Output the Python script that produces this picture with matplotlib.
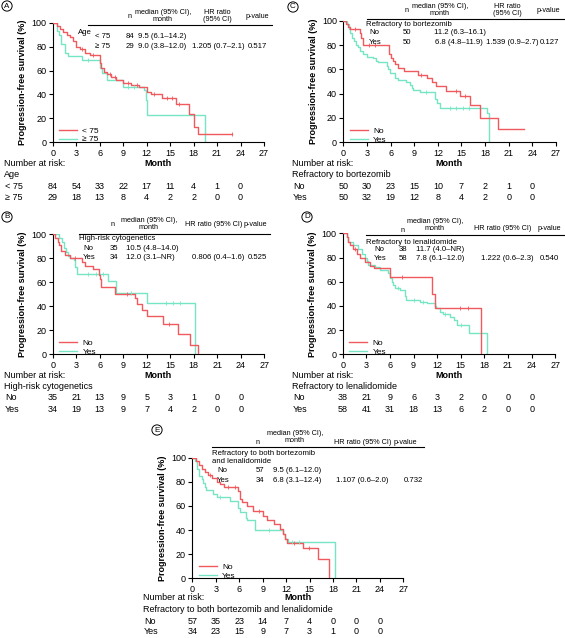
import matplotlib
matplotlib.use("Agg")
import matplotlib.pyplot as plt
import numpy as np
from matplotlib.lines import Line2D
from matplotlib.transforms import blended_transform_factory

plt.rcParams['font.family'] = ['Liberation Sans', 'DejaVu Sans']

W, H = 565, 638
RED = '#F05A5E'
GREEN = '#76E5C4'
HS = 5.2   # header title size
VS = 5.6   # header value size

# ---------------- data ----------------
months = [0, 3, 6, 9, 12, 15, 18, 21, 24, 27]
risk_times = [0, 3, 6, 9, 12, 15, 18, 21, 24]

# Panel A: Age
A_g1_t = [0, .5, .9, 1.3, 1.8, 2.2, 2.6, 3.0, 3.5, 4.1, 4.8, 6.0, 6.2, 6.6, 7.0, 7.5, 8.1, 9.0, 10.0, 11.0, 12.0, 12.6, 14.0, 15.8, 17.4, 18.0, 18.6]
A_g1_s = [100, 97, 95, 92, 90, 88, 85, 80, 78, 75, 73, 66, 62, 59, 57, 55, 52, 50, 48, 46, 42, 40, 37, 32, 24, 13, 7]
A_g1_end = 22.9
A_g1_cens = [3.8, 5.2, 7.3, 7.9, 9.6, 10.8, 13.0, 14.6, 15.2, 16.2, 22.9]
A_g2_t = [0, .5, .8, 1.1, 1.6, 2.0, 3.7, 6.0, 6.3, 7.0, 9.0, 11.7, 11.9, 12.0, 19.5]
A_g2_s = [100, 93, 90, 82, 75, 72, 69, 62, 58, 52, 46, 44, 35, 23, 0]
A_g2_end = 19.5
A_g2_cens = [4.5, 9.6, 10.4]
A_labels = ['< 75', '≥ 75']
A_risk1 = [84, 54, 33, 22, 17, 11, 4, 1, 0]
A_risk2 = [29, 18, 13, 8, 4, 2, 2, 0, 0]
A_n = ['84', '29']
A_median = ['9.5 (6.1–14.2)', '9.0 (3.8–12.0)']
A_hr, A_p = '1.205 (0.7–2.1)', '0.517'

# Panel B: High-risk cytogenetics
B_g1_t = [0, .3, .7, .85, 1.0, 1.6, 2.2, 3.7, 4.1, 5.2, 5.9, 6.0, 6.2, 8.0, 10.5, 10.8, 11.4, 12.0, 14.1, 16.0, 17.5, 18.6]
B_g1_s = [100, 97, 94, 91, 86, 83, 80, 77, 74, 71, 66, 63, 56, 50, 47, 42, 37, 32, 25, 17, 8, 0]
B_g1_end = 18.6
B_g1_cens = [2.8, 9.5, 14.9]
B_g2_t = [0, .85, 1.15, 1.4, 1.7, 2.0, 2.2, 2.7, 2.85, 3.1, 7.1, 8.1, 12.0, 18.2]
B_g2_s = [100, 97, 94, 89, 85, 82, 80, 79, 73, 67, 61, 51, 43, 0]
B_g2_end = 18.2
B_g2_cens = [4.5, 5.5, 6.4, 10.0, 14.5, 15.4, 16.3]
B_labels = ['No', 'Yes']
B_risk1 = [35, 21, 13, 9, 5, 3, 1, 0, 0]
B_risk2 = [34, 19, 13, 9, 7, 4, 2, 0, 0]
B_n = ['35', '34']
B_median = ['10.5 (4.8–14.0)', '12.0 (3.1–NR)']
B_hr, B_p = '0.806 (0.4–1.6)', '0.525'

# Panel C: Refractory to bortezomib
C_g1_t = [0, .4, .6, .85, 2.1, 2.3, 2.5, 5.8, 6.1, 6.3, 6.6, 7.0, 7.7, 9.5, 10.6, 11.2, 11.8, 13.1, 14.8, 16.1, 17.4, 19.6]
C_g1_s = [100, 97, 95, 93, 90, 86, 80, 73, 69, 67, 64, 61, 59, 55, 53, 50, 46, 42, 38, 31, 20, 11]
C_g1_end = 23.0
C_g1_cens = [1.5, 3.3, 4.0, 9.8, 14.3, 15.4]
C_g2_t = [0, .45, .7, .85, 1.05, 1.3, 1.6, 1.9, 2.1, 2.5, 3.0, 3.8, 4.2, 4.4, 5.5, 5.7, 5.9, 6.6, 7.0, 8.0, 8.5, 8.7, 8.9, 9.7, 11.6, 11.9, 12.3, 18.3, 18.45, 18.55]
C_g2_s = [100, 97, 93, 90, 86, 83, 80, 78, 75, 73, 70, 69, 67, 66, 63, 60, 57, 53, 51, 50, 47, 45, 43, 41, 36, 32, 28, 24, 18, 0]
C_g2_end = 18.55
C_g2_cens = [10.5, 13.5, 14.3, 15.2, 16.0]
C_labels = ['No', 'Yes']
C_risk1 = [50, 30, 23, 15, 10, 7, 2, 1, 0]
C_risk2 = [50, 32, 19, 12, 8, 4, 2, 0, 0]
C_n = ['50', '50']
C_median = ['11.2 (6.3–16.1)', '6.8 (4.8–11.9)']
C_hr, C_p = '1.539 (0.9–2.7)', '0.127'

# Panel D: Refractory to lenalidomide
D_g1_t = [0, .5, .7, .9, 1.25, 1.8, 2.2, 2.8, 3.5, 4.0, 6.0, 11.3, 11.7, 17.6]
D_g1_s = [100, 97, 93, 90, 87, 83, 80, 76, 73, 71, 64, 50, 38, 0]
D_g1_end = 17.6
D_g1_cens = [1.5, 7.5, 14.9, 15.9]
D_g2_t = [0, .5, .7, 1.35, 2.0, 2.4, 2.8, 3.1, 3.25, 4.1, 4.8, 5.8, 6.0, 6.2, 6.4, 6.6, 7.3, 7.9, 8.1, 9.8, 10.7, 11.7, 11.9, 12.3, 12.8, 13.6, 14.1, 14.5, 16.0, 18.3]
D_g2_s = [100, 97, 93, 90, 87, 83, 80, 77, 74, 72, 70, 67, 63, 60, 57, 55, 53, 48, 45, 43, 42, 40, 38, 35, 33, 31, 28, 24, 18, 0]
D_g2_end = 18.3
D_g2_cens = [7.0, 9.0, 10.2, 13.0, 15.0]
D_labels = ['No', 'Yes']
D_risk1 = [38, 21, 9, 6, 3, 2, 0, 0, 0]
D_risk2 = [58, 41, 31, 18, 13, 6, 2, 0, 0]
D_n = ['38', '58']
D_median = ['11.7 (4.0–NR)', '7.8 (6.1–12.0)']
D_hr, D_p = '1.222 (0.6–2.3)', '0.540'

# Panel E: Refractory to both
E_g1_t = [0, .5, .8, 1.2, 1.6, 2.0, 2.5, 3.1, 3.5, 4.0, 5.9, 6.1, 6.4, 7.0, 7.8, 9.1, 9.5, 10.4, 11.2, 11.6, 11.8, 12.1, 14.2, 16.1, 17.5]
E_g1_s = [100, 97, 94, 91, 88, 86, 83, 80, 78, 76, 72, 66, 63, 60, 56, 52, 48, 45, 41, 37, 33, 29, 25, 16, 0]
E_g1_end = 17.5
E_g1_cens = [2.3, 4.6, 5.4, 8.5, 13.0, 14.9]
E_g2_t = [0, .3, .65, .9, 1.2, 1.4, 1.6, 1.8, 2.7, 3.1, 4.8, 5.9, 6.1, 6.9, 7.0, 8.0, 11.6, 11.8, 12.3, 18.2]
E_g2_s = [100, 97, 91, 85, 82, 79, 76, 73, 70, 67, 64, 58, 55, 50, 48, 40, 37, 33, 30, 0]
E_g2_end = 18.2
E_g2_cens = [3.5, 9.8, 12.8, 13.6]
E_labels = ['No', 'Yes']
E_risk1 = [57, 35, 23, 14, 7, 4, 0, 0, 0]
E_risk2 = [34, 23, 15, 9, 7, 3, 1, 0, 0]
E_n = ['57', '34']
E_median = ['9.5 (6.1–12.0)', '6.8 (3.1–12.4)']
E_hr, E_p = '1.107 (0.6–2.0)', '0.732'

# ---------------- figure ----------------
fig = plt.figure(figsize=(W / 100, H / 100), dpi=100)

def T(x, y, s, ha='left', va='center', size=VS, **kw):
    return fig.text(x / W, 1 - y / H, s, ha=ha, va=va, fontsize=size, **kw)

def HL(x0, x1, y, lw=0.8):
    fig.add_artist(Line2D([x0 / W, x1 / W], [1 - y / H] * 2, lw=lw, color='black'))

def letter(x, y, s):
    T(x, y, s, ha='center', va='center', size=5.8,
      bbox=dict(boxstyle='circle,pad=0.2', fc='white', ec='black', lw=0.7))

def step_value(t, s, x):
    idx = np.searchsorted(np.asarray(t), x, side='right') - 1
    return np.asarray(s)[idx]

def km_axes(x0, x1, y100, y0, g1, g2, labels):
    ax = fig.add_axes([x0 / W, 1 - y0 / H, (x1 - x0) / W, (y0 - y100) / H])
    handles = []
    for (t, s, end, cens), col in zip((g1, g2), (RED, GREEN)):
        tt = list(t) + [end]
        ss = list(s) + [s[-1]]
        ln, = ax.step(tt, ss, where='post', color=col, lw=1.0, zorder=3 if col == RED else 2)
        cy = [step_value(t, s, c) for c in cens]
        ax.plot(cens, cy, ls='none', marker='|', ms=3, mew=0.6, color=col, zorder=3)
        handles.append(ln)
    ax.set_xlim(0, 27)
    ax.set_ylim(0, 100)
    ax.set_xticks(months)
    ax.set_yticks([0, 20, 40, 60, 80, 100])
    for sp in ('top', 'right'):
        ax.spines[sp].set_visible(False)
    for sp in ('left', 'bottom'):
        ax.spines[sp].set_linewidth(0.8)
    ax.tick_params(labelsize=6.5, length=3, width=0.8, pad=1.5)
    ax.set_facecolor('none')
    ax.legend(handles, labels, loc='lower left', bbox_to_anchor=(0.03, -0.01),
              frameon=False, fontsize=6, handlelength=2.2, handletextpad=0.6,
              labelspacing=0.05, borderpad=0, borderaxespad=0)
    T(x0 - 30, (y100 + y0) / 2, 'Progression-free survival (%)', ha='center', va='center',
      size=6.5, rotation=90, fontweight='bold')
    return ax

def risk_table(ax, xl, ytitle, title, labels, r1, r2, xmonth, ymonth):
    T(xl, ytitle, 'Number at risk:', size=6.5)
    T(xmonth, ymonth, 'Month', ha='center', size=6.5, fontweight='bold')
    T(xl, ytitle + 11.5, title, size=6.5)
    tr = blended_transform_factory(ax.transData, fig.transFigure)
    for row, lab, yy in ((r1, labels[0], ytitle + 23), (r2, labels[1], ytitle + 34)):
        T(xl + 1, yy, lab, size=6.5)
        for tx, v in zip(risk_times, row):
            ax.text(tx, 1 - yy / H, str(v), transform=tr, ha='center', va='center',
                    fontsize=6.5, clip_on=False)

# ---- Panel A ----
axA = km_axes(52.7, 264, 22.7, 142.3, (A_g1_t, A_g1_s, A_g1_end, A_g1_cens),
              (A_g2_t, A_g2_s, A_g2_end, A_g2_cens), A_labels)
letter(7, 6, 'A')
T(130, 16, 'n', ha='center', size=HS)
T(163, 16, 'median (95% CI),\nmonth', ha='center', linespacing=1.05, size=HS)
T(217, 16, 'HR ratio\n(95% CI)', ha='center', linespacing=1.05, size=HS)
T(257, 16, 'p-value', ha='center', size=HS)
HL(88, 272, 24.5)
T(78, 33, 'Age')
T(95, 36, A_labels[0]); T(130, 36, A_n[0], ha='center'); T(138, 36, A_median[0])
T(95, 47, A_labels[1]); T(130, 47, A_n[1], ha='center'); T(138, 47, A_median[1])
T(192, 47, A_hr); T(248, 47, A_p)
risk_table(axA, 4, 163, 'Age', A_labels, A_risk1, A_risk2, 158, 164)

# ---- Panel C ----
axC = km_axes(343.3, 556, 20.7, 142.3, (C_g1_t, C_g1_s, C_g1_end, C_g1_cens),
              (C_g2_t, C_g2_s, C_g2_end, C_g2_cens), C_labels)
letter(293, 7, 'C')
T(407, 10, 'n', ha='center', size=HS)
T(440, 10, 'median (95% CI),\nmonth', ha='center', linespacing=1.05, size=HS)
T(507, 10, 'HR ratio\n(95% CI)', ha='center', linespacing=1.05, size=HS)
T(548, 10, 'p-value', ha='center', size=HS)
HL(367, 565, 18.5)
T(366, 24, 'Refractory to bortezomib')
T(369, 32, C_labels[0]); T(407, 32, C_n[0], ha='center'); T(460, 32, C_median[0], ha='center')
T(369, 42, C_labels[1]); T(407, 42, C_n[1], ha='center'); T(459, 42, C_median[1], ha='center')
T(486, 42, C_hr); T(549, 42, C_p, ha='center')
risk_table(axC, 292, 163, 'Refractory to bortezomib', C_labels, C_risk1, C_risk2, 449, 164)

# ---- Panel B ----
axB = km_axes(52.7, 264.3, 234.3, 354.3, (B_g1_t, B_g1_s, B_g1_end, B_g1_cens),
              (B_g2_t, B_g2_s, B_g2_end, B_g2_cens), B_labels)
letter(7, 217, 'B')
T(113, 224, 'n', ha='center', size=HS)
T(149, 224, 'median (95% CI),\nmonth', ha='center', linespacing=1.05, size=HS)
T(185, 224, 'HR ratio (95% CI)', size=HS)
T(244, 224, 'p-value', size=HS)
HL(79, 270, 233.5)
T(79, 239, 'High-risk cytogenetics')
T(83, 248, B_labels[0]); T(114, 248, B_n[0], ha='center'); T(126, 248, B_median[0])
T(83, 257, B_labels[1]); T(114, 257, B_n[1], ha='center'); T(126, 257, B_median[1])
T(192, 257, B_hr); T(248, 257, B_p)
risk_table(axB, 4, 375, 'High-risk cytogenetics', B_labels, B_risk1, B_risk2, 158, 376)

# ---- Panel D ----
axD = km_axes(342.7, 555.3, 233.3, 354.3, (D_g1_t, D_g1_s, D_g1_end, D_g1_cens),
              (D_g2_t, D_g2_s, D_g2_end, D_g2_cens), D_labels)
letter(307, 217, 'D')
T(403, 230, 'n', ha='center', size=HS)
T(435, 225, 'median (95% CI),\nmonth', ha='center', linespacing=1.05, size=HS)
T(474, 229, 'HR ratio (95% CI)', size=HS)
T(538, 229, 'p-value', size=HS)
HL(366, 565, 235)
T(366, 242, 'Refractory to lenalidomide')
T(374, 250, D_labels[0]); T(403, 250, D_n[0], ha='center'); T(416, 250, D_median[0])
T(374, 259, D_labels[1]); T(403, 259, D_n[1], ha='center'); T(416, 259, D_median[1])
T(481, 259, D_hr); T(540, 259, D_p)
risk_table(axD, 292, 375, 'Refractory to lenalidomide', D_labels, D_risk1, D_risk2, 449, 376)

# ---- Panel E ----
axE = km_axes(192.3, 403.3, 457.7, 578.3, (E_g1_t, E_g1_s, E_g1_end, E_g1_cens),
              (E_g2_t, E_g2_s, E_g2_end, E_g2_cens), E_labels)
letter(157, 430, 'E')
T(258, 442, 'n', ha='center', size=HS)
T(295, 437, 'median (95% CI),\nmonth', ha='center', linespacing=1.05, size=HS)
T(334, 442, 'HR ratio (95% CI)', size=HS)
T(394, 442, 'p-value', size=HS)
HL(212, 424, 447)
T(212, 457.5, 'Refractory to both bortezomib\nand lenalidomide', linespacing=1.15)
T(217, 470, E_labels[0]); T(260, 470, E_n[0], ha='center'); T(297, 470, E_median[0], ha='center')
T(217, 480, E_labels[1]); T(260, 480, E_n[1], ha='center'); T(297, 480, E_median[1], ha='center')
T(362, 480, E_hr, ha='center'); T(413, 480, E_p, ha='center')
risk_table(axE, 143, 598, 'Refractory to both bortezomib and lenalidomide', E_labels,
           E_risk1, E_risk2, 298, 598)

fig.savefig('out.png', dpi=100)
